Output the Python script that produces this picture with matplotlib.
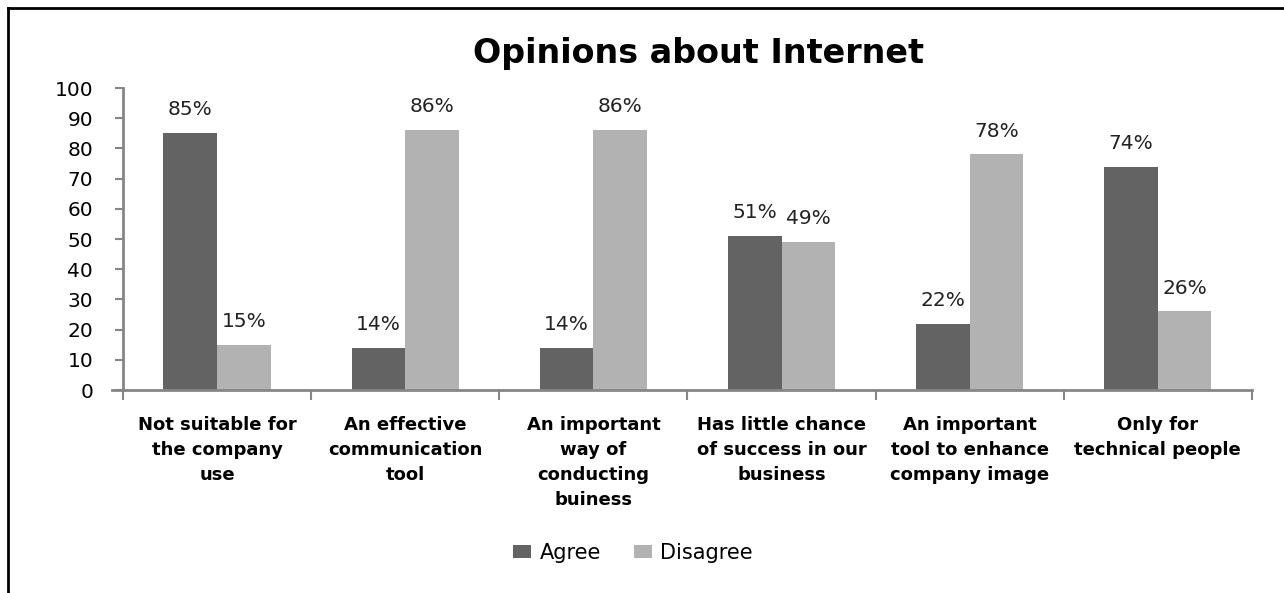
import matplotlib
matplotlib.use("Agg")
import matplotlib.pyplot as plt
from matplotlib.lines import Line2D
import numpy as np

categories = [
    "Not suitable for\nthe company\nuse",
    "An effective\ncommunication\ntool",
    "An important\nway of\nconducting\nbuiness",
    "Has little chance\nof success in our\nbusiness",
    "An important\ntool to enhance\ncompany image",
    "Only for\ntechnical people",
]
agree = [85, 14, 14, 51, 22, 74]
disagree = [15, 86, 86, 49, 78, 26]
series_names = ["Agree", "Disagree"]
y_ticks = list(range(0, 101, 10))

dark = "#636363"
light = "#b2b2b2"
axis_gray = "#868686"

plt.rcParams["font.family"] = ["DejaVu Sans"]

fig = plt.figure(figsize=(12.84, 5.93), dpi=100)
ax = fig.add_axes([0.0958, 0.3423, 0.8792, 0.5093])

x = np.arange(len(categories))
w = 0.285
b1 = ax.bar(x - w / 2, agree, w, color=dark, label=series_names[0])
b2 = ax.bar(x + w / 2, disagree, w, color=light, label=series_names[1])

for bars, vals in ((b1, agree), (b2, disagree)):
    for bar, v in zip(bars, vals):
        ax.annotate(f"{v}%", (bar.get_x() + bar.get_width() / 2, v),
                    xytext=(0, 10), textcoords="offset points",
                    ha="center", va="bottom", fontsize=14.5, color="#222222")

ax.set_xlim(-0.5, len(categories) - 0.5)
ax.set_ylim(0, 100)
ax.set_yticks(y_ticks)
ax.set_yticklabels([str(t) for t in y_ticks], fontsize=14.5)
ax.tick_params(axis="y", length=6, width=1.5, color=axis_gray, pad=15.5)

# category boundary ticks on the x axis, labels at category centres
ax.set_xticks(np.arange(-0.5, len(categories), 1.0))
ax.set_xticklabels([])
ax.tick_params(axis="x", length=7, width=1.5, color=axis_gray, direction="out")
ax.set_xticks(x, minor=True)
ax.set_xticklabels(categories, minor=True, fontsize=13, fontweight="bold",
                   linespacing=1.5, va="top")
ax.tick_params(axis="x", which="minor", length=0, pad=19)

for side in ("top", "right"):
    ax.spines[side].set_visible(False)
for side in ("left", "bottom"):
    ax.spines[side].set_color(axis_gray)
    ax.spines[side].set_linewidth(2)
ax.spines["bottom"].set_bounds(-0.56, len(categories) - 0.5)

fig.text(0.544, 0.8938, "Opinions about Internet", ha="center", va="baseline",
         fontsize=24, fontweight="bold")

leg = fig.legend(handles=[b1, b2], labels=series_names, loc="center",
                 bbox_to_anchor=(0.493, 0.0675), ncol=2, frameon=False,
                 fontsize=15, handlelength=0.85, handleheight=0.6,
                 handletextpad=0.4, columnspacing=1.6)

# chart frame edges
fig.add_artist(Line2D([0.0062, 0.0062], [0, 0.987], transform=fig.transFigure,
                      color="black", linewidth=2))
fig.add_artist(Line2D([0.0062, 1.0], [0.987, 0.987], transform=fig.transFigure,
                      color="black", linewidth=2))

fig.savefig("out.png", dpi=100, facecolor="white")
